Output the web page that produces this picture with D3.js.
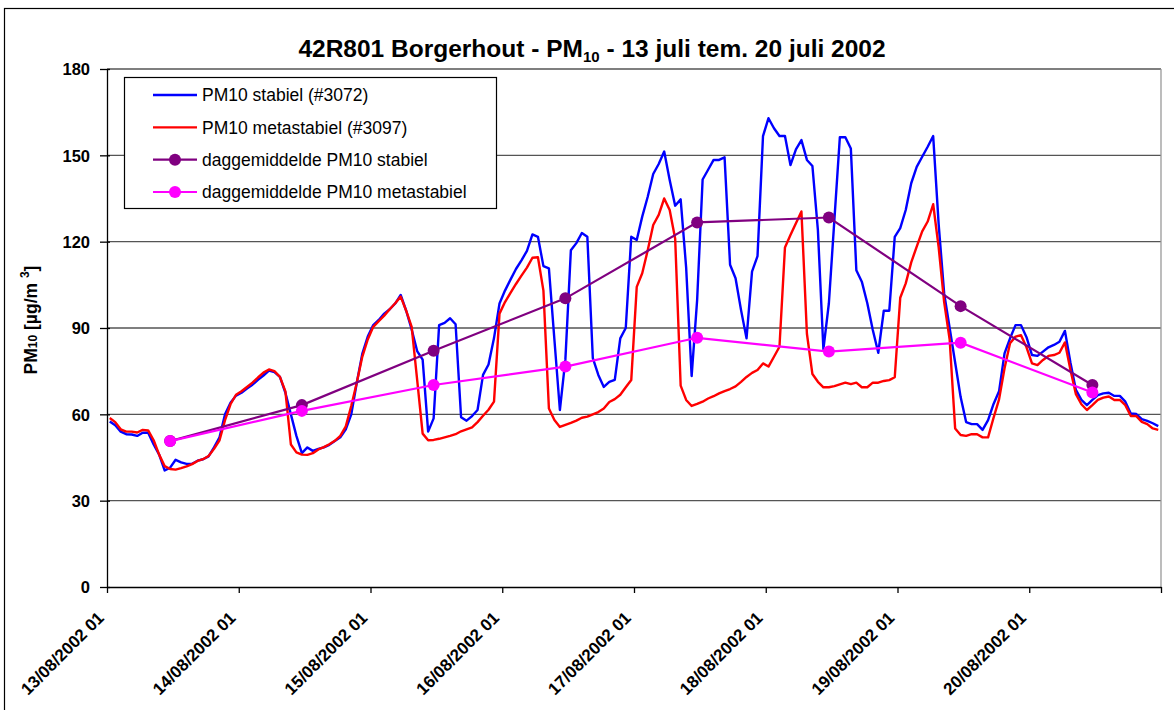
<!DOCTYPE html>
<html><head><meta charset="utf-8">
<script src="https://cdn.jsdelivr.net/npm/d3@7"></script>
<style>
body{margin:0;background:#fff}
svg{display:block}
text{font-family:"Liberation Sans",Arial,Helvetica,sans-serif;fill:#000}
</style>
</head><body>
<svg id="chart" width="1174" height="710"></svg>
<script>
// ---- data ----
const dayLabels = ["13/08/2002 01","14/08/2002 01","15/08/2002 01","16/08/2002 01","17/08/2002 01","18/08/2002 01","19/08/2002 01","20/08/2002 01"];
const hoursPerDay = 24;
const yTicks = [0, 30, 60, 90, 120, 150, 180];

// hourly PM10 stabiel (#3072)
const stabiel = [
 57.5,56.2,54,53.1,53,52.5,53.6,53.6,49.5,46,40.5,41.5,44.2,43.3,42.8,42.8,43.9,44.4,45.4,48.5,52,60,64,66.5,
 67.5,69,70.3,72,73.5,75.2,74.7,73,67.5,60,52.5,46.5,48.5,47.3,48,48.5,49.4,50.7,52,54.8,60,71,81,87,
 91,92.8,95,96.5,98.5,101.5,96,89.5,82,79,54,58.6,91,91.8,93.4,91.3,59,57.8,59.4,61.5,73.7,77.3,86.5,98.5,
 103,106.8,110.5,113.5,116.8,122.5,121.7,111.5,110.7,86,61.5,79,117,119.5,123,121.7,79.5,73.7,69.5,71.3,72,86.4,90,121.7,
 120.6,128.7,135.6,143.5,147,151.3,141.4,132.5,134.7,111,73.3,99.7,141.6,145,148.4,148.4,149.3,112,107.3,96.2,86.4,109.6,115,156.7,
 162.9,159.4,156.7,156.7,146.6,152.1,155.3,148.4,146.3,124,82.6,98.6,127.5,156.3,156.3,152.4,110.1,106.1,98.6,89.3,81.4,96,96,121.7,
 124.7,131,140.3,146,149.5,153,156.7,126,102,90,78,66,57.3,56.6,56.6,54.6,58,63.6,68,81.2,86.4,91,91,86.8,
 80.6,80.3,81.8,83.3,84.1,85.2,89,78,68.5,65,63.2,65,66.7,67.3,67.5,66.4,66.4,64.4,60.3,60.1,58.3,57.7,56.9,55.9
];
// hourly PM10 metastabiel (#3097)
const metastabiel = [
 58.7,57.3,54.8,54,54,53.7,54.6,54.4,51,46,42,41,40.8,41.3,41.9,42.7,43.8,44.4,45.5,48,51,58,63.5,66.8,
 68,69.5,71,72.8,74.5,75.6,75,73,68,49.5,46.8,46,45.9,46.5,47.8,48.6,49.6,50.8,52.5,55.8,63,71,80,86,
 90.4,92.4,94.3,96.5,98.6,100.9,96,90.4,72,53.3,51,51.1,51.5,52,52.5,53.1,54.1,54.8,55.5,57.3,59.5,61.6,64.4,95,
 99,102.2,105.3,108.2,111,114.4,114.6,103,62,58,55.6,56.3,57,57.8,58.8,59.2,60,60.8,62,64.3,65.3,66.8,69.4,71.9,
 104.3,109,117,125.8,129.3,135,131,121,70,65,62.9,63.6,64.4,65.5,66.3,67.3,68.1,68.8,69.7,71.3,73,74.4,75.4,77.7,
 76.6,80,83.5,118,122.3,126.4,130.5,88,74,71.3,69.4,69.4,69.8,70.4,71,70.5,71,69.4,69.4,71,71,71.6,71.9,72.9,
 100.5,105.5,112.8,118.3,123.6,127,133,118,99,86,55.1,52.8,52.5,53.1,53.1,52,52,58.8,65.2,76,84.7,87,87.5,83.3,
 77.7,77.1,78.9,80.3,80.6,81.4,85,75.5,67,63.5,61.5,63.2,65,65.8,66.2,65,65,63.2,59.4,59.4,57.4,56.6,55.1,54.6
];
// daily means (plotted at hour 12 of each day)
const dagStabiel = [50.7, 63.2, 82.1, 100.3, 126.7, 128.4, 97.6, 70.2];
const dagMetastabiel = [50.7, 61.2, 70.2, 76.6, 86.6, 81.8, 84.9, 67.6];
const meanHour = 11;

const seriesNames = ["PM10 stabiel (#3072)","PM10 metastabiel (#3097)","daggemiddelde PM10 stabiel","daggemiddelde PM10 metastabiel"];
const colors = {blue:"#0000FF", red:"#FF0000", purple:"#800080", magenta:"#FF00FF"};

// ---- layout ----
const L = 107, R = 1161, T = 69, B = 587;
const nHours = stabiel.length; // 192
const svg = d3.select("#chart");
svg.append("rect").attr("width",1174).attr("height",710).attr("fill","#fff");
// chart area border
svg.append("rect").attr("x",4.5).attr("y",8.5).attr("width",1200).attr("height",750)
  .attr("fill","none").attr("stroke","#000").attr("stroke-width",1.2);

const x = d3.scaleLinear().domain([0, nHours]).range([L, R]);
const y = d3.scaleLinear().domain([0, 180]).range([B, T]);

// gridlines
svg.append("g").selectAll("line").data(yTicks.filter(d=>d>0)).join("line")
  .attr("x1",L).attr("x2",R).attr("y1",d=>y(d)).attr("y2",d=>y(d))
  .attr("stroke","#555").attr("stroke-width",1.3);
// right plot border
svg.append("line").attr("x1",R).attr("x2",R).attr("y1",T).attr("y2",B)
  .attr("stroke","#999").attr("stroke-width",1.3);

// y axis
const yAxis = d3.axisLeft(y).tickValues(yTicks).tickSizeInner(7).tickSizeOuter(0).tickPadding(10);
const gy = svg.append("g").attr("transform",`translate(${L},0)`).call(yAxis);
gy.select(".domain").attr("stroke","#000").attr("stroke-width",1.3);
gy.selectAll(".tick line").attr("x2",-7).attr("x1",3).attr("stroke","#000").attr("stroke-width",1.3);
gy.selectAll(".tick text").attr("font-size",16.5).attr("font-weight","bold").attr("dy","0.36em");

// x axis
const xTickVals = d3.range(0, nHours + 1, hoursPerDay);
const xAxis = d3.axisBottom(x).tickValues(xTickVals).tickSizeInner(6).tickSizeOuter(0).tickFormat(()=>"");
const gx = svg.append("g").attr("transform",`translate(0,${B})`).call(xAxis);
gx.select(".domain").attr("stroke","#000").attr("stroke-width",1.3);
gx.selectAll(".tick line").attr("stroke","#000").attr("stroke-width",1.3);
svg.append("g").selectAll("text").data(dayLabels).join("text")
  .attr("transform",(d,i)=>`translate(${x(i*hoursPerDay)-2},619) rotate(-45)`)
  .attr("text-anchor","end").attr("font-size",17).attr("font-weight","bold")
  .text(d=>d);

// lines
const line = d3.line().x((d,i)=>x(i+0.5)).y(d=>y(d));
svg.append("path").datum(stabiel).attr("d",line).attr("fill","none")
  .attr("stroke",colors.blue).attr("stroke-width",2.4).attr("stroke-linejoin","round");
svg.append("path").datum(metastabiel).attr("d",line).attr("fill","none")
  .attr("stroke",colors.red).attr("stroke-width",2.4).attr("stroke-linejoin","round");

const meanLine = d3.line().x((d,i)=>x(i*hoursPerDay+meanHour+0.5)).y(d=>y(d));
function drawMean(data,color){
  svg.append("path").datum(data).attr("d",meanLine).attr("fill","none")
    .attr("stroke",color).attr("stroke-width",2.2);
  svg.append("g").selectAll("circle").data(data).join("circle")
    .attr("cx",(d,i)=>x(i*hoursPerDay+meanHour+0.5)).attr("cy",d=>y(d)).attr("r",6)
    .attr("fill",color);
}
drawMean(dagStabiel, colors.purple);
drawMean(dagMetastabiel, colors.magenta);

// title
const title = svg.append("text").attr("x",592).attr("y",57).attr("text-anchor","middle")
  .attr("font-size",24.5).attr("font-weight","bold");
title.append("tspan").text("42R801 Borgerhout - PM");
title.append("tspan").attr("font-size",15).attr("dy",5).text("10");
title.append("tspan").attr("dy",-5).text(" - 13 juli tem. 20 juli 2002");

// y axis title
const yt = svg.append("text").attr("transform","translate(37,320) rotate(-90)")
  .attr("text-anchor","middle").attr("font-size",17.5).attr("font-weight","bold");
yt.append("tspan").text("PM");
yt.append("tspan").attr("font-size",12).text("10");
yt.append("tspan").text(" [µg/m ");
yt.append("tspan").attr("font-size",12).attr("dy",-8).text("3");
yt.append("tspan").attr("dy",8).text("]");

// legend
const lg = svg.append("g");
lg.append("rect").attr("x",124.5).attr("y",77.5).attr("width",372).attr("height",131)
  .attr("fill","#fff").attr("stroke","#000").attr("stroke-width",1.2);
const legendItems = [
  {name:seriesNames[0], color:colors.blue, marker:false},
  {name:seriesNames[1], color:colors.red, marker:false},
  {name:seriesNames[2], color:colors.purple, marker:true},
  {name:seriesNames[3], color:colors.magenta, marker:true}
];
const ly = d3.scaleLinear().domain([0,3]).range([95,192]);
legendItems.forEach((it,i)=>{
  const yy = ly(i);
  lg.append("line").attr("x1",153).attr("x2",197).attr("y1",yy).attr("y2",yy)
    .attr("stroke",it.color).attr("stroke-width",it.marker?2.2:2.4);
  if(it.marker) lg.append("circle").attr("cx",175).attr("cy",yy).attr("r",6).attr("fill",it.color);
  lg.append("text").attr("x",202).attr("y",yy).attr("dy","0.36em").attr("font-size",17.5).text(it.name);
});
</script>
</body></html>
